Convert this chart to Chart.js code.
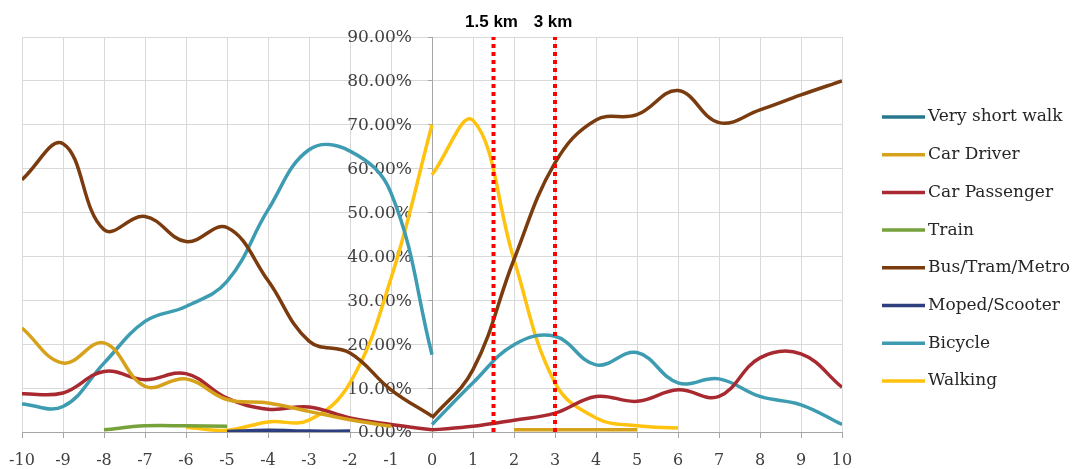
<!DOCTYPE html>
<html>
<head>
<meta charset="utf-8">
<title>Mode share by distance</title>
<script src="https://cdn.jsdelivr.net/npm/chart.js"></script>
<style>
  html, body { margin: 0; padding: 0; background: #fff; }
  #wrap { width: 1085px; height: 469px; }
</style>
</head>
<body>
<div id="wrap"><canvas id="modeChart"></canvas></div>
<script>
// x positions of the two halves (they meet at 0 but are not joined)
const leftX = [-10, -9, -8, -7, -6, -5, -4, -3, -2, -1, 0];
const rightX = [0, 1, 2, 3, 4, 5, 6, 7, 8, 9, 10];

// share in % (null = no line there)
const veryShortLeft  = [];
const veryShortRight = [];
const carDriverLeft  = [23.7, 15.7, 20.3, 10.4, 12.1, 7.4, 6.6, 4.7, 2.8, 1.3, null];
const carDriverRight = [null, null, 0.5, 0.5, 0.5, 0.5, null, null, null, null, null];
const carPassLeft    = [8.7, 8.9, 13.8, 11.9, 13.3, 7.7, 5.2, 5.7, 3.2, 1.7, 0.5];
const carPassRight   = [0.5, 1.3, 2.7, 4.3, 8.1, 7.0, 9.6, 8.1, 16.9, 17.8, 10.2];
const trainLeft      = [null, null, 0.5, 1.4, 1.4, 1.3, null, null, null, null, null];
const trainRight     = [];
const busLeft        = [57.5, 65.7, 46.1, 49.1, 43.4, 46.6, 34.5, 20.7, 18.0, 9.6, 3.6];
const busRight       = [3.2, 14.2, 39.3, 61.3, 71.1, 72.3, 77.8, 70.5, 73.4, 76.8, 80.0];
const mopedLeft      = [null, null, null, null, null, 0.1, 0.4, 0.2, 0.2, null, null];
const mopedRight     = [];
const bicycleLeft    = [6.4, 5.8, 15.7, 25.2, 28.6, 34.3, 50.6, 64.3, 64.0, 54.5, 17.6];
const bicycleRight   = [1.7, 11.2, 19.9, 21.8, 15.3, 18.1, 11.2, 12.1, 8.1, 6.2, 1.7];
const walkingLeft    = [null, null, null, null, 1.1, 0.4, 2.3, 2.7, 11.2, 35.0, 70.0];
const walkingRight   = [58.6, 71.0, 39.3, 11.2, 3.2, 1.4, 0.9, null, null, null, null];

const modeNames = ['Very short walk', 'Car Driver', 'Car Passenger', 'Train',
                   'Bus/Tram/Metro', 'Moped/Scooter', 'Bicycle', 'Walking'];
const modeColors = ['#27788c', '#d6a21c', '#a82a30', '#76a13b',
                    '#7a3b0f', '#2e3f7f', '#3d9cb1', '#ffc20e'];
const modeLeft = [veryShortLeft, carDriverLeft, carPassLeft, trainLeft,
                  busLeft, mopedLeft, bicycleLeft, walkingLeft];
const modeRight = [veryShortRight, carDriverRight, carPassRight, trainRight,
                   busRight, mopedRight, bicycleRight, walkingRight];

// distance markers
const markerKm = [1.5, 3];
const markerLabels = ['1.5 km', '3 km'];

const yTicks = [0, 10, 20, 30, 40, 50, 60, 70, 80, 90];

// left half, a break at 0, then right half
function toPoints(left, right) {
    const pts = [];
    left.forEach((v, i) => pts.push({ x: leftX[i], y: v }));
    pts.push({ x: 0, y: null });
    right.forEach((v, i) => pts.push({ x: rightX[i], y: v }));
    return pts;
}

const datasets = modeNames.map((name, i) => ({
    label: name,
    data: toPoints(modeLeft[i], modeRight[i]),
    borderColor: modeColors[i],
    backgroundColor: modeColors[i],
    borderWidth: 3.5,
    pointRadius: 0,
    tension: 0.4,
    fill: false
}));

markerKm.forEach(km => {
    datasets.push({
        label: 'marker',
        data: [{ x: km, y: 0 }, { x: km, y: 90 }],
        borderColor: '#ff0000',
        borderWidth: 4,
        borderDash: [4, 4],
        pointRadius: 0,
        order: -1
    });
});

// y labels sit left of the axis at x = 0, under the lines
const yLabels = {
    id: 'yLabels',
    beforeDatasetsDraw(chart) {
        const ctx = chart.ctx;
        const xs = chart.scales.x, ys = chart.scales.y;
        const right = xs.getPixelForValue(0) - 20;
        ctx.save();
        ctx.font = '17px "DejaVu Serif"';
        ctx.fillStyle = '#404040';
        ctx.textAlign = 'right';
        ctx.textBaseline = 'middle';
        yTicks.forEach(v => ctx.fillText(v.toFixed(2) + '%', right, ys.getPixelForValue(v) + 1));
        ctx.restore();
    }
};

// legend on the right, drawn by hand so it sits where the original has it
const sideLegend = {
    id: 'sideLegend',
    afterDraw(chart) {
        const ctx = chart.ctx;
        ctx.save();
        ctx.font = '17px "DejaVu Serif"';
        ctx.textBaseline = 'middle';
        ctx.textAlign = 'left';
        modeNames.forEach((name, i) => {
            const y = 117 + i * 37.7;
            ctx.strokeStyle = modeColors[i];
            ctx.lineWidth = 3.5;
            ctx.beginPath();
            ctx.moveTo(882, y);
            ctx.lineTo(925, y);
            ctx.stroke();
            ctx.fillStyle = '#262626';
            ctx.fillText(name, 928, y);
        });
        ctx.restore();
    }
};

// "1.5 km" / "3 km" above the dotted lines
const markerText = {
    id: 'markerText',
    afterDraw(chart) {
        const ctx = chart.ctx;
        const xs = chart.scales.x;
        ctx.save();
        ctx.font = 'bold 17px "Liberation Sans"';
        ctx.fillStyle = '#000';
        ctx.textAlign = 'center';
        ctx.textBaseline = 'alphabetic';
        markerKm.forEach((km, i) => {
            ctx.fillText(markerLabels[i], xs.getPixelForValue(km) - 2, 27);
        });
        ctx.restore();
    }
};

new Chart(document.getElementById('modeChart'), {
    type: 'line',
    data: { datasets: datasets },
    options: {
        responsive: true,
        maintainAspectRatio: false,
        animation: false,
        layout: { padding: { left: 22, right: 243, top: 37, bottom: 0 } },
        plugins: {
            legend: { display: false },
            tooltip: { enabled: false }
        },
        scales: {
            x: {
                type: 'linear',
                min: -10,
                max: 10,
                afterFit: s => { s.height = 37; s.paddingLeft = 0; s.paddingRight = 0; },
                grid: { color: '#d9d9d9', tickColor: '#a6a6a6', tickLength: 6 },
                border: { color: '#a6a6a6' },
                ticks: {
                    stepSize: 1,
                    padding: 13,
                    maxRotation: 0,
                    color: '#404040',
                    font: { family: 'DejaVu Serif', size: 16 }
                }
            },
            y: {
                position: { x: 0 },
                min: 0,
                max: 90,
                afterBuildTicks: axis => { axis.ticks = yTicks.map(v => ({ value: v })); },
                afterFit: s => { s.width = 0; s.paddingTop = 0; s.paddingBottom = 0; },
                grid: { color: '#d9d9d9', tickColor: '#a6a6a6', tickLength: 4 },
                border: { color: '#a6a6a6' },
                ticks: { display: false }
            }
        }
    },
    plugins: [yLabels, sideLegend, markerText]
});
</script>
</body>
</html>
